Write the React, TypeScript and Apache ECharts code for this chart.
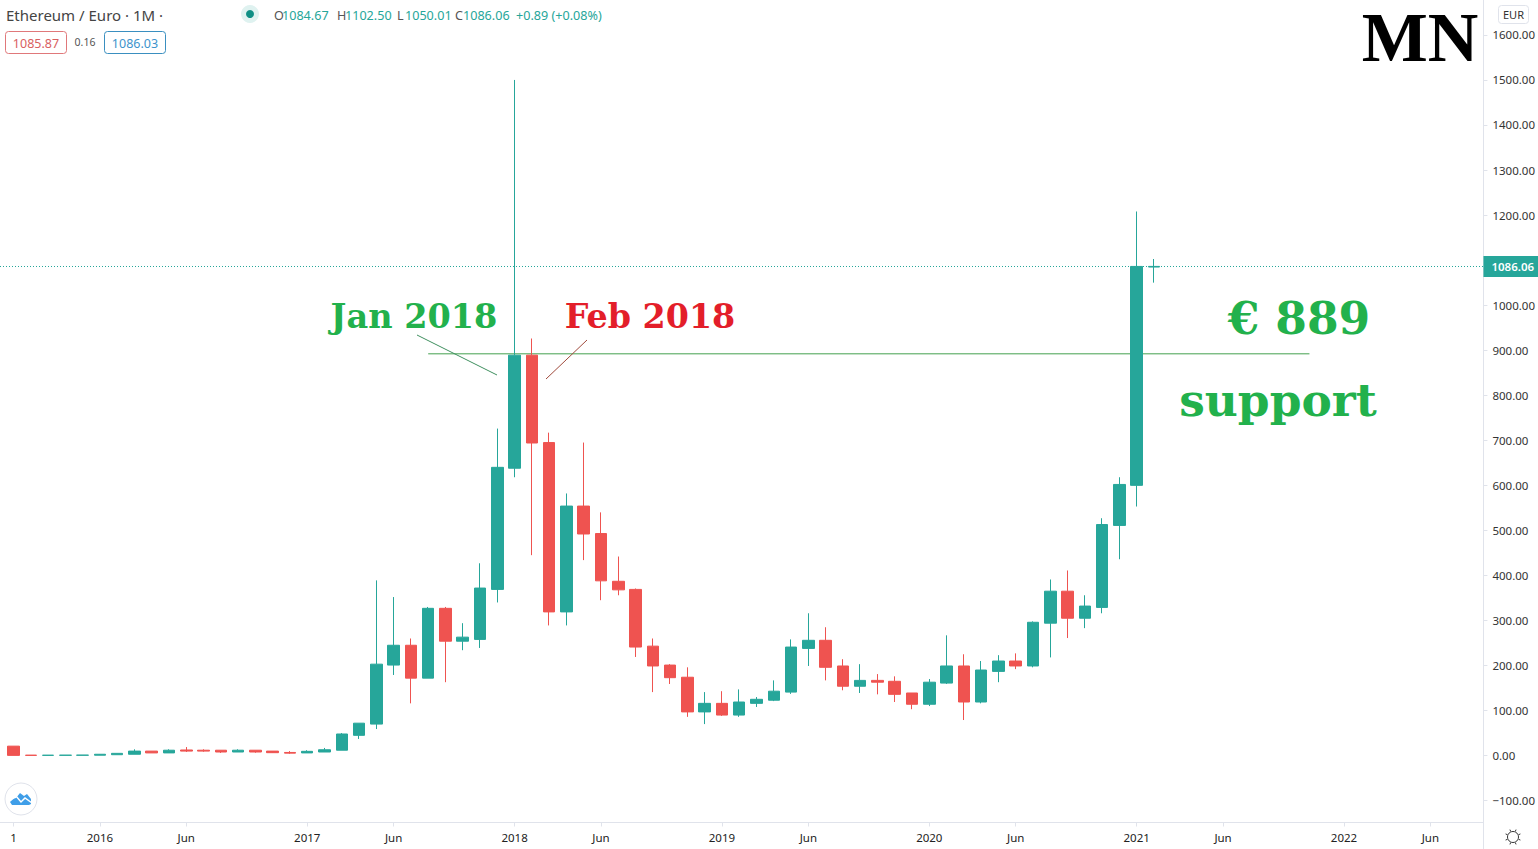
import React, { useEffect, useRef } from "react";
import * as echarts from "echarts";

const opens = [21, 1, 0.6, 0.7, 0.8, 0.9, 2, 3, 10, 6, 12.5, 12, 12, 8, 12, 10, 7, 6, 8, 12, 45, 70, 201, 245, 172, 327, 254, 258, 369, 638, 889, 695, 319, 554, 493, 387, 369, 243, 201, 174, 97, 116, 90, 116, 123, 141, 238, 256, 199, 154, 167, 165, 139, 114, 161, 199, 119, 187, 210, 199, 294, 365, 305, 329, 511, 600, 1084.67];
const closes = [0.5, 0.5, 0.9, 1, 1.1, 3, 5, 10, 6, 12, 10, 10, 8, 12, 8, 6.5, 5.5, 9.5, 13, 48, 72, 203, 245, 172, 327, 254, 263, 372, 640, 889, 694, 319, 554, 492, 388, 368, 241, 199, 173, 97, 116, 90, 119, 125, 143, 241, 256, 196, 154, 167, 163, 136, 114, 163, 199, 119, 190, 210, 199, 296, 365, 305, 332, 513, 602, 1086, 1086.06];
const lows = [0.5, 0.5, 0.6, 0.7, 0.8, 0.9, 2, 3, 6, 6, 8, 8.5, 6, 8, 6.5, 6, 4, 6, 8, 12, 37, 59, 179, 116, 172, 163, 234, 239, 340, 618, 445, 289, 289, 434, 345, 356, 219, 141, 159, 86, 70, 88, 86, 108, 121, 137, 199, 167, 145, 139, 136, 119, 103, 110, 159, 79, 116, 163, 192, 196, 218, 261, 283, 316, 436, 553, 1050.01];
const highs = [21, 1, 0.9, 1, 1.1, 3.3, 5, 14, 10, 14, 19, 14, 12, 14, 12, 10, 10, 12, 17, 50, 72, 389, 352, 260, 330, 330, 294, 427, 726, 1500, 926, 717, 582, 695, 540, 442, 371, 260, 203, 196, 141, 143, 147, 130, 167, 258, 316, 285, 214, 203, 181, 176, 139, 170, 267, 225, 210, 223, 227, 298, 391, 411, 356, 527, 618, 1208, 1102.5];

const lastClose = 1086.06;
const supportLevel = 892;
const supportFrom = 24;
const supportTo = 75;

const xTickIndex = [0, 5, 10, 17, 22, 29, 34, 41, 46, 53, 58, 65, 70, 77, 82];
const xTickLabels = ["1", "2016", "Jun", "2017", "Jun", "2018", "Jun", "2019", "Jun", "2020", "Jun", "2021", "Jun", "2022", "Jun"];
const yTicks = [-100, 0, 100, 200, 300, 400, 500, 600, 700, 800, 900, 1000, 1100, 1200, 1300, 1400, 1500, 1600];

const ohlcPieces: [string, string, number][] = [
  ["O", "1084.67", 274],
  ["H", "1102.50", 337],
  ["L", "1050.01", 397],
  ["C", "1086.06", 455],
];

const GREEN = "#26a69a";
const RED = "#ef5350";
const FRAME = "#e0e3eb";
const SANS = '"Noto Sans", sans-serif';
const SERIF = '"DejaVu Serif", serif';

export default function App() {
  const ref = useRef<HTMLDivElement>(null);
  useEffect(() => {
    document.body.style.margin = "0";
    document.body.style.overflow = "hidden";
    const chart = echarts.init(ref.current!, undefined, { renderer: "svg" });
    const candles = opens.map((o, i) => [i, o, closes[i], lows[i], highs[i]]);
    const labelOf = new Map(xTickIndex.map((v, i) => [v, xTickLabels[i]]));

    const t = (text: string, x: number, y: number, font: string, fill: string, textAlign = "left") => ({
      type: "text",
      silent: true,
      z: 50,
      style: { text, x, y, font, fill, textAlign, textVerticalAlign: "middle" },
    });
    const l = (x1: number, y1: number, x2: number, y2: number, stroke: string, lineWidth = 1) => ({
      type: "line",
      silent: true,
      z: 40,
      shape: { x1, y1, x2, y2 },
      style: { stroke, lineWidth },
    });
    const rays = [0, 1, 2, 3, 4, 5, 6, 7].map((k) => {
      const a = (k * Math.PI) / 4 + Math.PI / 8;
      return l(1513 + 6 * Math.cos(a), 837 + 6 * Math.sin(a), 1513 + 8 * Math.cos(a), 837 + 8 * Math.sin(a), "#333");
    });

    const graphics: any[] = [
      t("Ethereum / Euro · 1M ·", 6, 14.5, `15px ${SANS}`, "#444"),
      { type: "rect", silent: true, z: 40, shape: { x: 5.5, y: 31.5, width: 61, height: 22, r: 3 }, style: { fill: "#fff", stroke: "#e0787a", lineWidth: 1 } },
      t("1085.87", 36, 43, `12.5px ${SANS}`, "#d9605f", "center"),
      t("0.16", 85, 42, `10.5px ${SANS}`, "#555", "center"),
      { type: "rect", silent: true, z: 40, shape: { x: 104.5, y: 31.5, width: 61, height: 22, r: 3 }, style: { fill: "#fff", stroke: "#3a8fc0", lineWidth: 1 } },
      t("1086.03", 135, 43, `12.5px ${SANS}`, "#3d94cc", "center"),
      { type: "circle", silent: true, z: 40, shape: { cx: 250, cy: 14, r: 9 }, style: { fill: "#dff2f0" } },
      { type: "circle", silent: true, z: 41, shape: { cx: 250, cy: 14, r: 4 }, style: { fill: "#0f8f84" } },
      ...ohlcPieces.flatMap(([k, v, x]) => [
        t(k, x, 15.5, `12.6px ${SANS}`, "#555"),
        t(v, x + 8, 15.5, `12.6px ${SANS}`, GREEN),
      ]),
      t("+0.89 (+0.08%)", 516, 15.5, `12.6px ${SANS}`, GREEN),
      { type: "rect", silent: true, z: 40, shape: { x: 1498.5, y: 5.5, width: 30, height: 18, r: 3 }, style: { fill: "#fff", stroke: FRAME, lineWidth: 1 } },
      t("EUR", 1513.5, 14, `11px ${SANS}`, "#333", "center"),
      t("MN", 1420, 37, `bold 70px "Liberation Serif", serif`, "#000", "center"),
      t("Jan 2018", 414, 316, `bold 33.5px ${SERIF}`, "#22b14c", "center"),
      t("Feb 2018", 650, 316, `bold 33.3px ${SERIF}`, "#e31e2a", "center"),
      t("€ 889", 1299, 318, `bold 45.5px ${SERIF}`, "#22b14c", "center"),
      t("support", 1278, 400, `bold 45.5px ${SERIF}`, "#22b14c", "center"),
      l(417, 335, 497, 375, "#3f8f5f"),
      l(587, 340, 546, 379, "#a04a3c"),
      l(1483.5, 823, 1483.5, 849, FRAME),
      { type: "circle", silent: true, z: 40, shape: { cx: 21, cy: 799, r: 16 }, style: { fill: "#fff", stroke: FRAME, lineWidth: 1 } },
      { type: "polygon", silent: true, z: 41, shape: { points: [[10, 802], [12, 799], [16, 798], [20, 793], [24, 796], [27, 794], [31, 799], [31, 804], [29, 805], [12, 805]] }, style: { fill: "#3f9ee8" } },
      { type: "polyline", silent: true, z: 42, shape: { points: [[10, 801], [16, 796], [21, 802], [25, 798], [32, 803]] }, style: { stroke: "#fff", fill: "none", lineWidth: 1.5 } },
      { type: "circle", silent: true, z: 40, shape: { cx: 1513, cy: 837, r: 5.5 }, style: { fill: "none", stroke: "#333", lineWidth: 1 } },
      ...rays,
    ];

    chart.setOption({
      animation: false,
      backgroundColor: "#ffffff",
      grid: { left: 0, right: 54.5, top: 0, bottom: 26.5 },
      xAxis: {
        type: "value",
        min: -0.78,
        max: 85.07,
        splitLine: { show: false },
        axisLine: { show: true, onZero: false, lineStyle: { color: FRAME } },
        axisTick: { show: true, length: 4, customValues: xTickIndex, lineStyle: { color: FRAME } },
        axisLabel: {
          customValues: xTickIndex,
          margin: 9,
          fontSize: 11.5,
          fontFamily: SANS,
          color: "#222",
          formatter: (v: number) => labelOf.get(v) ?? "",
        },
      },
      yAxis: {
        type: "value",
        position: "right",
        min: -148.5,
        max: 1677.5,
        splitLine: { show: false },
        axisLine: { show: true, onZero: false, lineStyle: { color: FRAME } },
        axisTick: { show: true, length: 4, customValues: yTicks, lineStyle: { color: FRAME } },
        axisLabel: {
          customValues: yTicks,
          margin: 9,
          padding: [0, 0, 2, 0],
          fontSize: 11.5,
          fontFamily: SANS,
          color: "#333",
          formatter: (v: number) => (v < 0 ? "\u2212" + Math.abs(v).toFixed(2) : v.toFixed(2)),
        },
      },
      series: [
        {
          type: "line",
          z: 1,
          symbol: "none",
          silent: true,
          data: [[supportFrom, supportLevel], [supportTo, supportLevel]],
          lineStyle: { color: "#43a04f", width: 1 },
        },
        {
          type: "candlestick",
          z: 2,
          barWidth: 12,
          data: candles,
          itemStyle: { color: GREEN, color0: RED, borderColor: GREEN, borderColor0: RED, borderWidth: 1 },
          markLine: {
            silent: true,
            symbol: "none",
            animation: false,
            lineStyle: { type: [1, 2], color: GREEN, width: 1 },
            label: {
              show: true,
              position: "end",
              distance: 0,
              formatter: () => lastClose.toFixed(2),
              backgroundColor: GREEN,
              color: "#fff",
              fontFamily: SANS,
              fontSize: 11.5,
              fontWeight: 600,
              padding: [5, 5, 4, 8],
            },
            data: [{ yAxis: lastClose }],
          },
        },
      ],
      graphic: graphics,
    });
    return () => chart.dispose();
  }, []);
  return <div ref={ref} style={{ width: 1538, height: 849 }} />;
}
